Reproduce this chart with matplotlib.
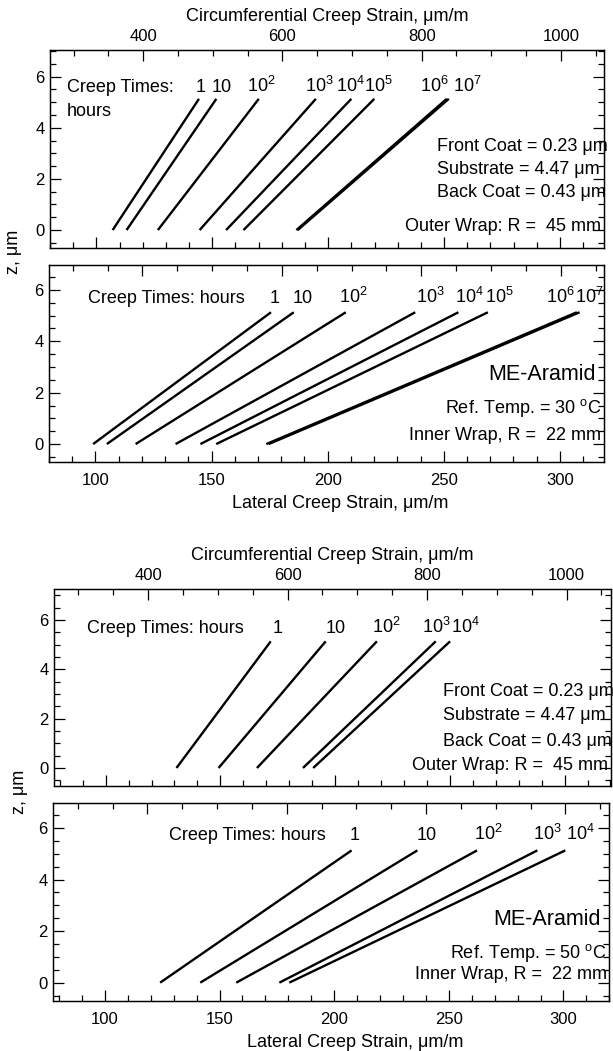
import matplotlib
matplotlib.use('Agg')
import matplotlib.pyplot as plt
from matplotlib.ticker import MultipleLocator

plt.rcParams['font.family'] = ['Liberation Sans', 'DejaVu Sans']
plt.rcParams['mathtext.fontset'] = 'custom'
plt.rcParams['mathtext.rm'] = 'Liberation Sans'
plt.rcParams['mathtext.it'] = 'Liberation Sans:italic'

# ---------------- data ----------------
z_pts = [0.0, 5.13]

times_30 = ['1', '10', '10$^2$', '10$^3$', '10$^4$', '10$^5$', '10$^6$', '10$^7$']
circ30_bot = [356, 376, 421, 481, 519, 544, 620, 622]
circ30_top = [480, 505, 566, 648, 699, 732, 836, 839]
lat30_bot = [99.0, 104.9, 117.3, 134.5, 145.2, 152.0, 173.6, 174.6]
lat30_top = [175.6, 185.4, 207.8, 237.7, 256.3, 269.0, 307.3, 308.5]

times_50 = ['1', '10', '10$^2$', '10$^3$', '10$^4$']
circ50_bot = [440.6, 501.0, 556.0, 622.0, 636.6]
circ50_top = [575.8, 654.6, 728.0, 812.4, 833.0]
lat50_bot = [124.1, 141.6, 157.3, 176.1, 180.4]
lat50_top = [207.6, 236.3, 262.3, 288.6, 300.8]

circ_axis_label = 'Circumferential Creep Strain, μm/m'
lat_axis_label = 'Lateral Creep Strain, μm/m'

# ---------------- layout ----------------
W, H = 613, 1051
fig = plt.figure(figsize=(W / 100, H / 100), dpi=100)


def rect(x0, y0, x1, y1):
    return [x0 / W, 1 - y1 / H, (x1 - x0) / W, (y1 - y0) / H]


FS_TICK = 12
FS_TXT = 13


def make_panel(r, lat_lim, circ_lim, ylim, labels_top):
    ax = fig.add_axes(r)
    ax.set_xlim(lat_lim)
    ax.set_ylim(ylim)
    tw = ax.twiny()
    tw.set_xlim(circ_lim)
    ax.xaxis.set_major_locator(MultipleLocator(50))
    ax.xaxis.set_minor_locator(MultipleLocator(10))
    tw.xaxis.set_major_locator(MultipleLocator(200))
    tw.xaxis.set_minor_locator(MultipleLocator(50))
    ax.yaxis.set_major_locator(MultipleLocator(2))
    ax.yaxis.set_minor_locator(MultipleLocator(0.5))
    for a in (ax, tw):
        for s in a.spines.values():
            s.set_linewidth(0.9)
    ax.tick_params(axis='x', which='both', direction='in', bottom=True, top=False,
                   labelbottom=not labels_top, labelsize=FS_TICK, pad=8)
    tw.tick_params(axis='x', which='both', direction='in', top=True, bottom=False,
                   labeltop=labels_top, labelsize=FS_TICK, pad=4)
    ax.tick_params(axis='y', which='both', direction='in', left=True, right=True,
                   labelleft=True, labelright=False, labelsize=FS_TICK, pad=4)
    for a in (ax, tw):
        a.tick_params(which='major', length=8, width=0.9)
        a.tick_params(which='minor', length=4.5, width=0.9)
    return ax, tw


def draw_lines(a, bot, top):
    for b, t in zip(bot, top):
        a.plot([b, t], z_pts, color='black', lw=1.7, solid_capstyle='butt')


def time_labels(a, xs, labels, zb):
    for x, s in zip(xs, labels):
        a.text(x, zb, s, ha='center', va='baseline', fontsize=FS_TXT)


# ---- Panel 1: circumferential, 30 C ----
ax1, tw1 = make_panel(rect(50, 50, 604, 247.7), (80, 319), (266, 1062), (-0.69, 7.04), True)
draw_lines(tw1, circ30_bot, circ30_top)
time_labels(tw1, [482, 513, 569, 653, 697, 738, 818, 866], times_30, 5.41)
ax1.text(0.03, 5.41, 'Creep Times:', transform=ax1.get_yaxis_transform(), fontsize=FS_TXT, va='baseline')
ax1.text(0.03, 4.46, 'hours', transform=ax1.get_yaxis_transform(), fontsize=FS_TXT, va='baseline')
tw1.set_xlabel(circ_axis_label, fontsize=FS_TXT, labelpad=6)
for txt, zc in [('Front Coat = 0.23 μm', 3.26), ('Substrate = 4.47 μm', 2.35), ('Back Coat = 0.43 μm', 1.46)]:
    ax1.text(0.699, zc, txt, transform=ax1.get_yaxis_transform(), fontsize=FS_TXT, va='center', ha='left')
ax1.text(0.995, 0.13, 'Outer Wrap: R =  45 mm', transform=ax1.get_yaxis_transform(), fontsize=FS_TXT,
         va='center', ha='right')

# ---- Panel 2: lateral, 30 C ----
ax2, tw2 = make_panel(rect(49, 265, 604, 462.3), (80, 319), (266, 1062), (-0.71, 6.97), False)
draw_lines(ax2, lat30_bot, lat30_top)
time_labels(ax2, [177.3, 189.2, 211.2, 244.2, 261.1, 273.8, 300.0, 312.7], times_30, 5.48)
ax2.text(0.07, 5.48, 'Creep Times: hours', transform=ax2.get_yaxis_transform(), fontsize=FS_TXT, va='baseline')
ax2.set_xlabel(lat_axis_label, fontsize=FS_TXT)
ax2.xaxis.set_label_coords(0.525, -0.165)
ax2.text(0.985, 2.69, 'ME-Aramid', transform=ax2.get_yaxis_transform(), fontsize=15.5, va='center', ha='right')
ax2.text(0.995, 1.39, 'Ref. Temp. = 30 $^{\\mathrm{o}}$C', transform=ax2.get_yaxis_transform(),
         fontsize=FS_TXT, va='center', ha='right')
ax2.text(0.995, 0.35, 'Inner Wrap, R =  22 mm', transform=ax2.get_yaxis_transform(), fontsize=FS_TXT,
         va='center', ha='right')

fig.text(13.5 / W, 1 - 252 / H, 'z, μm', rotation=90, ha='center', va='center', fontsize=FS_TXT)

# ---- Panel 3: circumferential, 50 C ----
ax3, tw3 = make_panel(rect(54, 589, 610.5, 786), (77.5, 320), (265, 1063), (-0.73, 7.25), True)
draw_lines(tw3, circ50_bot, circ50_top)
time_labels(tw3, [586, 669, 742, 813.5, 854.6], times_50, 5.45)
ax3.text(0.06, 5.45, 'Creep Times: hours', transform=ax3.get_yaxis_transform(), fontsize=FS_TXT, va='baseline')
tw3.set_xlabel(circ_axis_label, fontsize=FS_TXT, labelpad=6)
for txt, zc in [('Front Coat = 0.23 μm', 3.08), ('Substrate = 4.47 μm', 2.11), ('Back Coat = 0.43 μm', 1.09)]:
    ax3.text(0.699, zc, txt, transform=ax3.get_yaxis_transform(), fontsize=FS_TXT, va='center', ha='left')
ax3.text(0.995, 0.12, 'Outer Wrap: R =  45 mm', transform=ax3.get_yaxis_transform(), fontsize=FS_TXT,
         va='center', ha='right')

# ---- Panel 4: lateral, 50 C ----
ax4, tw4 = make_panel(rect(53.3, 802.7, 609.3, 1000.7), (77.5, 320), (265, 1063), (-0.70, 6.98), False)
draw_lines(ax4, lat50_bot, lat50_top)
time_labels(ax4, [209, 240.2, 267.4, 292.9, 307.3], times_50, 5.55)
ax4.text(0.208, 5.55, 'Creep Times: hours', transform=ax4.get_yaxis_transform(), fontsize=FS_TXT, va='baseline')
ax4.set_xlabel(lat_axis_label, fontsize=FS_TXT)
ax4.xaxis.set_label_coords(0.543, -0.168)
ax4.text(0.985, 2.45, 'ME-Aramid', transform=ax4.get_yaxis_transform(), fontsize=15.5, va='center', ha='right')
ax4.text(0.995, 1.15, 'Ref. Temp. = 50 $^{\\mathrm{o}}$C', transform=ax4.get_yaxis_transform(),
         fontsize=FS_TXT, va='center', ha='right')
ax4.text(0.995, 0.30, 'Inner Wrap, R =  22 mm', transform=ax4.get_yaxis_transform(), fontsize=FS_TXT,
         va='center', ha='right')

fig.text(20 / W, 1 - 792 / H, 'z, μm', rotation=90, ha='center', va='center', fontsize=FS_TXT)

fig.savefig('out.png', dpi=100)
